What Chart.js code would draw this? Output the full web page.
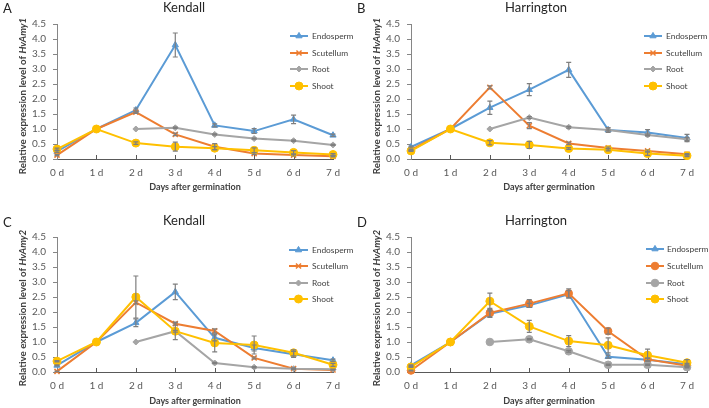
<!DOCTYPE html>
<html>
<head>
<meta charset="utf-8">
<script src="https://cdn.jsdelivr.net/npm/chart.js@4.4.0/dist/chart.umd.min.js"></script>
<style>
  html, body { margin: 0; padding: 0; background: #ffffff; }
  #wrap { position: relative; width: 709px; height: 408px; overflow: hidden; }
  canvas { position: absolute; }
</style>
</head>
<body>
<div id="wrap">
  <canvas id="cA" width="370" height="204" style="left:0;top:0;width:370px;height:204px"></canvas>
  <canvas id="cB" width="355" height="204" style="left:354px;top:0;width:355px;height:204px"></canvas>
  <canvas id="cC" width="370" height="204" style="left:0;top:204px;width:370px;height:204px"></canvas>
  <canvas id="cD" width="355" height="204" style="left:354px;top:204px;width:355px;height:204px"></canvas>
</div>
<script>
// ---------- DATA ----------
const categories = ['0 d', '1 d', '2 d', '3 d', '4 d', '5 d', '6 d', '7 d'];
const yTickValues = [0, 0.5, 1.0, 1.5, 2.0, 2.5, 3.0, 3.5, 4.0, 4.5];
const seriesNames = ['Endosperm', 'Scutellum', 'Root', 'Shoot'];

// Panel A: Kendall, HvAmy1
const A_endo     = [0.25, 1.0, 1.63, 3.80, 1.12, 0.93, 1.32, 0.79];
const A_endoErr  = [0.03, 0, 0.07, 0.40, 0.05, 0.08, 0.14, 0.04];
const A_scut     = [0.13, 1.0, 1.56, 0.82, 0.41, 0.18, 0.13, 0.09];
const A_scutErr  = [0.02, 0, 0.04, 0.04, 0.10, 0.03, 0.03, 0.02];
const A_root     = [null, null, 1.0, 1.04, 0.82, 0.68, 0.61, 0.47];
const A_rootErr  = [0, 0, 0, 0.02, 0.02, 0.02, 0.02, 0.02];
const A_shoot    = [0.33, 1.0, 0.53, 0.41, 0.36, 0.29, 0.22, 0.15];
const A_shootErr = [0.03, 0, 0.04, 0.15, 0.05, 0.08, 0.06, 0.03];

// Panel B: Harrington, HvAmy1
const B_endo     = [0.40, 1.0, 1.71, 2.31, 2.97, 0.97, 0.88, 0.70];
const B_endoErr  = [0.03, 0, 0.22, 0.20, 0.25, 0.08, 0.10, 0.12];
const B_scut     = [0.30, 1.0, 2.39, 1.11, 0.52, 0.37, 0.27, 0.16];
const B_scutErr  = [0.02, 0, 0.05, 0.10, 0.04, 0.03, 0.03, 0.02];
const B_root     = [null, null, 1.0, 1.38, 1.06, 0.97, 0.80, 0.66];
const B_rootErr  = [0, 0, 0, 0.03, 0.03, 0.03, 0.03, 0.05];
const B_shoot    = [0.27, 1.0, 0.54, 0.47, 0.35, 0.31, 0.18, 0.11];
const B_shootErr = [0.02, 0, 0.07, 0.12, 0.03, 0.04, 0.06, 0.03];

// Panel C: Kendall, HvAmy2
const C_endo     = [0.22, 1.0, 1.64, 2.67, 1.14, 0.80, 0.59, 0.39];
const C_endoErr  = [0.02, 0, 0.13, 0.26, 0.10, 0.10, 0.10, 0.04];
const C_scut     = [0.02, 1.0, 2.32, 1.61, 1.37, 0.47, 0.11, 0.07];
const C_scutErr  = [0.01, 0, 0.05, 0.05, 0.07, 0.03, 0.02, 0.01];
const C_root     = [null, null, 1.0, 1.36, 0.30, 0.16, 0.11, 0.09];
const C_rootErr  = [0, 0, 0, 0.03, 0.02, 0.02, 0.02, 0.01];
const C_shoot    = [0.36, 1.0, 2.50, 1.36, 0.97, 0.90, 0.64, 0.24];
const C_shootErr = [0.02, 0, 0.70, 0.28, 0.30, 0.30, 0.10, 0.05];

// Panel D: Harrington, HvAmy2
const D_endo     = [0.22, 1.0, 1.94, 2.22, 2.59, 0.51, 0.41, 0.26];
const D_endoErr  = [0.02, 0, 0.10, 0.07, 0.12, 0.05, 0.04, 0.03];
const D_scut     = [0.05, 1.0, 1.97, 2.28, 2.62, 1.36, 0.42, 0.21];
const D_scutErr  = [0.01, 0, 0.15, 0.13, 0.15, 0.10, 0.05, 0.03];
const D_root     = [null, null, 1.0, 1.09, 0.69, 0.24, 0.24, 0.16];
const D_rootErr  = [0, 0, 0, 0.02, 0.03, 0.02, 0.02, 0.02];
const D_shoot    = [0.17, 1.0, 2.36, 1.52, 1.03, 0.89, 0.56, 0.31];
const D_shootErr = [0.02, 0, 0.27, 0.20, 0.18, 0.25, 0.20, 0.10];

// ---------- STYLE ----------
const COLORS = ['#5B9BD5', '#ED7D31', '#A5A5A5', '#FFC000'];
const FONT = 'Lato, "Open Sans", "Liberation Sans", sans-serif';
const TICK_COLOR = '#595959';
const TEXT_COLOR = '#404040';

function makeDatasets(values, errs, styles) {
  return values.map((v, i) => ({
    label: seriesNames[i],
    data: v,
    err: errs[i],
    borderColor: COLORS[i],
    backgroundColor: COLORS[i],
    pointBackgroundColor: COLORS[i],
    pointBorderColor: COLORS[i],
    pointStyle: styles[i].style,
    pointRadius: styles[i].r,
    pointBorderWidth: styles[i].bw,
    borderWidth: 2,
    tension: 0,
    clip: false,
    order: 3 - i,
    spanGaps: false
  }));
}

const stylesAmy1 = [
  { style: 'triangle', r: 3.6, bw: 1 },
  { style: 'crossRot', r: 3.6, bw: 1.5 },
  { style: 'rectRot', r: 3, bw: 1 },
  { style: 'circle', r: 4, bw: 1 }
];
const stylesAmy2D = [
  { style: 'triangle', r: 3.6, bw: 1 },
  { style: 'circle', r: 3.8, bw: 1 },
  { style: 'circle', r: 3.8, bw: 1 },
  { style: 'circle', r: 4, bw: 1 }
];

// ---------- PLUGINS ----------
const errorBars = {
  id: 'errorBars',
  afterDatasetsDraw(chart) {
    const ctx = chart.ctx;
    const x = chart.scales.x, y = chart.scales.y;
    ctx.save();
    ctx.strokeStyle = '#7F7F7F';
    ctx.lineWidth = 1.2;
    chart.data.datasets.forEach((ds) => {
      ds.data.forEach((v, i) => {
        const e = ds.err ? ds.err[i] : 0;
        if (v === null || !e) return;
        const px = x.getPixelForValue(i);
        const pt = y.getPixelForValue(v + e);
        const pb = y.getPixelForValue(Math.max(v - e, 0));
        ctx.beginPath();
        ctx.moveTo(px, pt); ctx.lineTo(px, pb);
        ctx.moveTo(px - 2.5, pt); ctx.lineTo(px + 2.5, pt);
        ctx.moveTo(px - 2.5, pb); ctx.lineTo(px + 2.5, pb);
        ctx.stroke();
      });
    });
    ctx.restore();
  }
};

const decor = {
  id: 'decor',
  beforeDatasetsDraw(chart) {
    const ctx = chart.ctx, xs = chart.scales.x, area = chart.chartArea;
    ctx.save();
    ctx.strokeStyle = '#595959';
    ctx.lineWidth = 1;
    xs.ticks.forEach((t, i) => {
      if (i === 0) return;
      const px = Math.round(xs.getPixelForTick(i)) + 0.5;
      ctx.beginPath();
      ctx.moveTo(px, area.bottom);
      ctx.lineTo(px, area.bottom - 4);
      ctx.stroke();
    });
    ctx.restore();
  },
  afterDraw(chart, args, o) {
    const ctx = chart.ctx, area = chart.chartArea;
    ctx.save();
    ctx.textBaseline = 'middle';
    ctx.fillStyle = '#222222';
    ctx.font = '13px ' + FONT;
    ctx.textAlign = 'left';
    ctx.fillText(o.letter, 3, o.letterY);
    ctx.fillStyle = '#262626';
    ctx.font = '13px ' + FONT;
    ctx.textAlign = 'center';
    ctx.fillText(o.title, o.titleX, o.titleY);
    ctx.fillStyle = TEXT_COLOR;
    ctx.font = 'bold 9px ' + FONT;
    ctx.fillText('Days after germination', (area.left + area.right) / 2, o.xTitleY);
    ctx.translate(23, o.yTitleY);
    ctx.rotate(-Math.PI / 2);
    const p1 = 'Relative expression level of ';
    const p2 = o.gene;
    const f1 = 'bold 9.8px ' + FONT, f2 = 'italic bold 9.8px ' + FONT;
    ctx.font = f1;
    const w1 = ctx.measureText(p1).width;
    ctx.font = f2;
    const w2 = ctx.measureText(p2).width;
    const s = -(w1 + w2) / 2;
    ctx.textAlign = 'left';
    ctx.font = f1;
    ctx.fillText(p1, s, 0);
    ctx.font = f2;
    ctx.fillText(p2, s + w1, 0);
    ctx.restore();

    ctx.save();
    chart.data.datasets.forEach((ds, i) => {
      const yy = o.legendRows[i];
      ctx.strokeStyle = ds.borderColor;
      ctx.lineWidth = 2;
      ctx.beginPath();
      ctx.moveTo(o.lx1, yy); ctx.lineTo(o.lx2, yy);
      ctx.stroke();
      ctx.fillStyle = ds.pointBackgroundColor;
      ctx.strokeStyle = ds.pointBorderColor;
      ctx.lineWidth = ds.pointBorderWidth;
      Chart.helpers.drawPoint(ctx, {
        pointStyle: ds.pointStyle,
        radius: ds.pointRadius,
        rotation: 0,
        borderWidth: ds.pointBorderWidth
      }, (o.lx1 + o.lx2) / 2, yy);
      ctx.fillStyle = TEXT_COLOR;
      ctx.font = '8.4px ' + FONT;
      ctx.textAlign = 'left';
      ctx.textBaseline = 'middle';
      ctx.fillText(ds.label, o.tx, yy);
    });
    ctx.restore();
  }
};

function makeChart(id, values, errs, styles, deco, pad, xHeight) {
  return new Chart(document.getElementById(id), {
    type: 'line',
    data: { labels: categories, datasets: makeDatasets(values, errs, styles) },
    options: {
      responsive: false,
      animation: false,
      devicePixelRatio: 1,
      layout: { padding: pad },
      plugins: {
        legend: { display: false },
        tooltip: { enabled: false },
        title: { display: false },
        decor: deco
      },
      scales: {
        x: {
          type: 'category',
          offset: false,
          grid: { display: false, drawTicks: false, tickLength: 0 },
          border: { display: true, color: '#595959', width: 1 },
          ticks: { color: TICK_COLOR, font: { family: FONT, size: 10 }, padding: 8, maxRotation: 0, autoSkip: false },
          afterFit(s) { s.height = xHeight; }
        },
        y: {
          min: 0, max: 4.5,
          afterBuildTicks(s) { s.ticks = yTickValues.map(v => ({ value: v })); },
          grid: { display: true, drawOnChartArea: false, drawTicks: true, tickLength: 4, color: '#868686' },
          border: { display: true, color: '#868686', width: 1 },
          ticks: { color: TICK_COLOR, font: { family: FONT, size: 10 }, padding: 7, callback: v => Number(v).toFixed(1) },
          afterFit(s) { s.width = 57; }
        }
      }
    },
    plugins: [decor, errorBars]
  });
}

makeChart('cA',
  [A_endo, A_scut, A_root, A_shoot], [A_endoErr, A_scutErr, A_rootErr, A_shootErr], stylesAmy1,
  { letter: 'A', letterY: 9, title: 'Kendall', titleX: 184, titleY: 8, gene: 'HvAmy1', yTitleY: 96, xTitleY: 187,
    legendRows: [36, 53, 69, 86], lx1: 290, lx2: 308, tx: 312 },
  { left: 0, top: 24, right: 37, bottom: 0 }, 45);

makeChart('cB',
  [B_endo, B_scut, B_root, B_shoot], [B_endoErr, B_scutErr, B_rootErr, B_shootErr], stylesAmy1,
  { letter: 'B', letterY: 9, title: 'Harrington', titleX: 182, titleY: 8, gene: 'HvAmy1', yTitleY: 96, xTitleY: 187,
    legendRows: [36, 53, 69, 86], lx1: 290, lx2: 308, tx: 312 },
  { left: 0, top: 24, right: 22, bottom: 0 }, 45);

makeChart('cC',
  [C_endo, C_scut, C_root, C_shoot], [C_endoErr, C_scutErr, C_rootErr, C_shootErr], stylesAmy1,
  { letter: 'C', letterY: 19, title: 'Kendall', titleX: 184, titleY: 17, gene: 'HvAmy2', yTitleY: 104, xTitleY: 197,
    legendRows: [46, 62, 79, 95], lx1: 289, lx2: 308, tx: 312 },
  { left: 0, top: 33, right: 37, bottom: 0 }, 36);

makeChart('cD',
  [D_endo, D_scut, D_root, D_shoot], [D_endoErr, D_scutErr, D_rootErr, D_shootErr], stylesAmy2D,
  { letter: 'D', letterY: 19, title: 'Harrington', titleX: 182, titleY: 17, gene: 'HvAmy2', yTitleY: 104, xTitleY: 197,
    legendRows: [45, 62, 79, 95], lx1: 292, lx2: 310, tx: 313 },
  { left: 0, top: 33, right: 22, bottom: 0 }, 36);
</script>
</body>
</html>
